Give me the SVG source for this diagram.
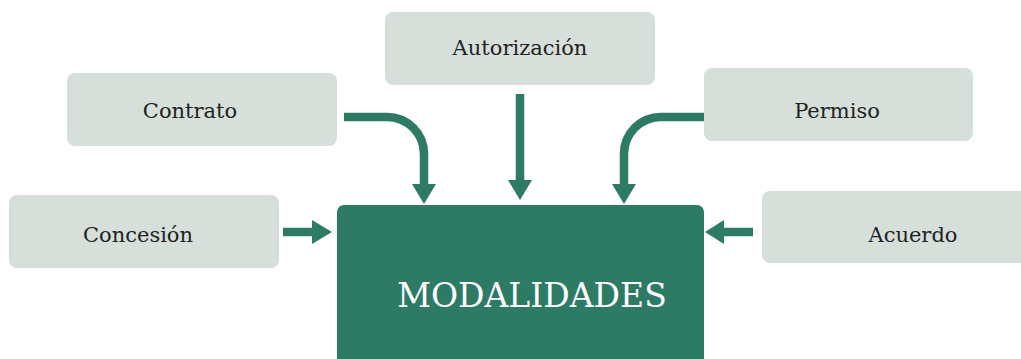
<svg xmlns="http://www.w3.org/2000/svg" width="1021" height="359" viewBox="0 0 1021 359">
<style>
.box{fill:#d7dfdb}
.lbl{font-family:"DejaVu Serif","Liberation Serif",serif;font-size:21px;fill:#222;text-anchor:middle}
.main{fill:#2e7b65}
.mlbl{font-family:"DejaVu Serif","Liberation Serif",serif;font-size:33px;fill:#fff;text-anchor:middle}
.ln{fill:none;stroke:#2e7b65;stroke-width:8.5}
.hd{fill:#2e7b65}
</style>
<rect width="1021" height="359" fill="#fff"/>
<g id="autorizacion"><rect class="box" x="385" y="12" width="270" height="73" rx="8"/><text class="lbl" x="520" y="55">Autorización</text></g>
<g id="contrato"><rect class="box" x="67" y="73" width="270" height="73" rx="8"/><text class="lbl" x="190" y="118">Contrato</text></g>
<g id="permiso"><rect class="box" x="704" y="68" width="269" height="73" rx="8"/><text class="lbl" x="837" y="118">Permiso</text></g>
<g id="concesion"><rect class="box" x="9" y="195" width="270" height="73" rx="8"/><text class="lbl" x="138" y="242">Concesión</text></g>
<g id="acuerdo"><rect class="box" x="762" y="191" width="270" height="72" rx="8"/><text class="lbl" x="913" y="242">Acuerdo</text></g>
<g id="modalidades"><rect class="main" x="337" y="205" width="367" height="170" rx="7"/><text class="mlbl" x="532" y="307">MODALIDADES</text></g>
<g id="connectors">
<path class="ln" d="M344 117 H387 A37 37 0 0 1 424 154 V186"/>
<polygon class="hd" points="412,184 436,184 424,204"/>
<path class="ln" d="M520 94 V182"/>
<polygon class="hd" points="508,180 532,180 520,200"/>
<path class="ln" d="M704 117 H661 A37 37 0 0 0 624 154 V186"/>
<polygon class="hd" points="612,184 636,184 624,204"/>
<path class="ln" d="M283 232 H314"/>
<polygon class="hd" points="312,220 312,244 332,232"/>
<path class="ln" d="M753 232 H721"/>
<polygon class="hd" points="724,220 724,244 705,232"/>
</g>
</svg>
